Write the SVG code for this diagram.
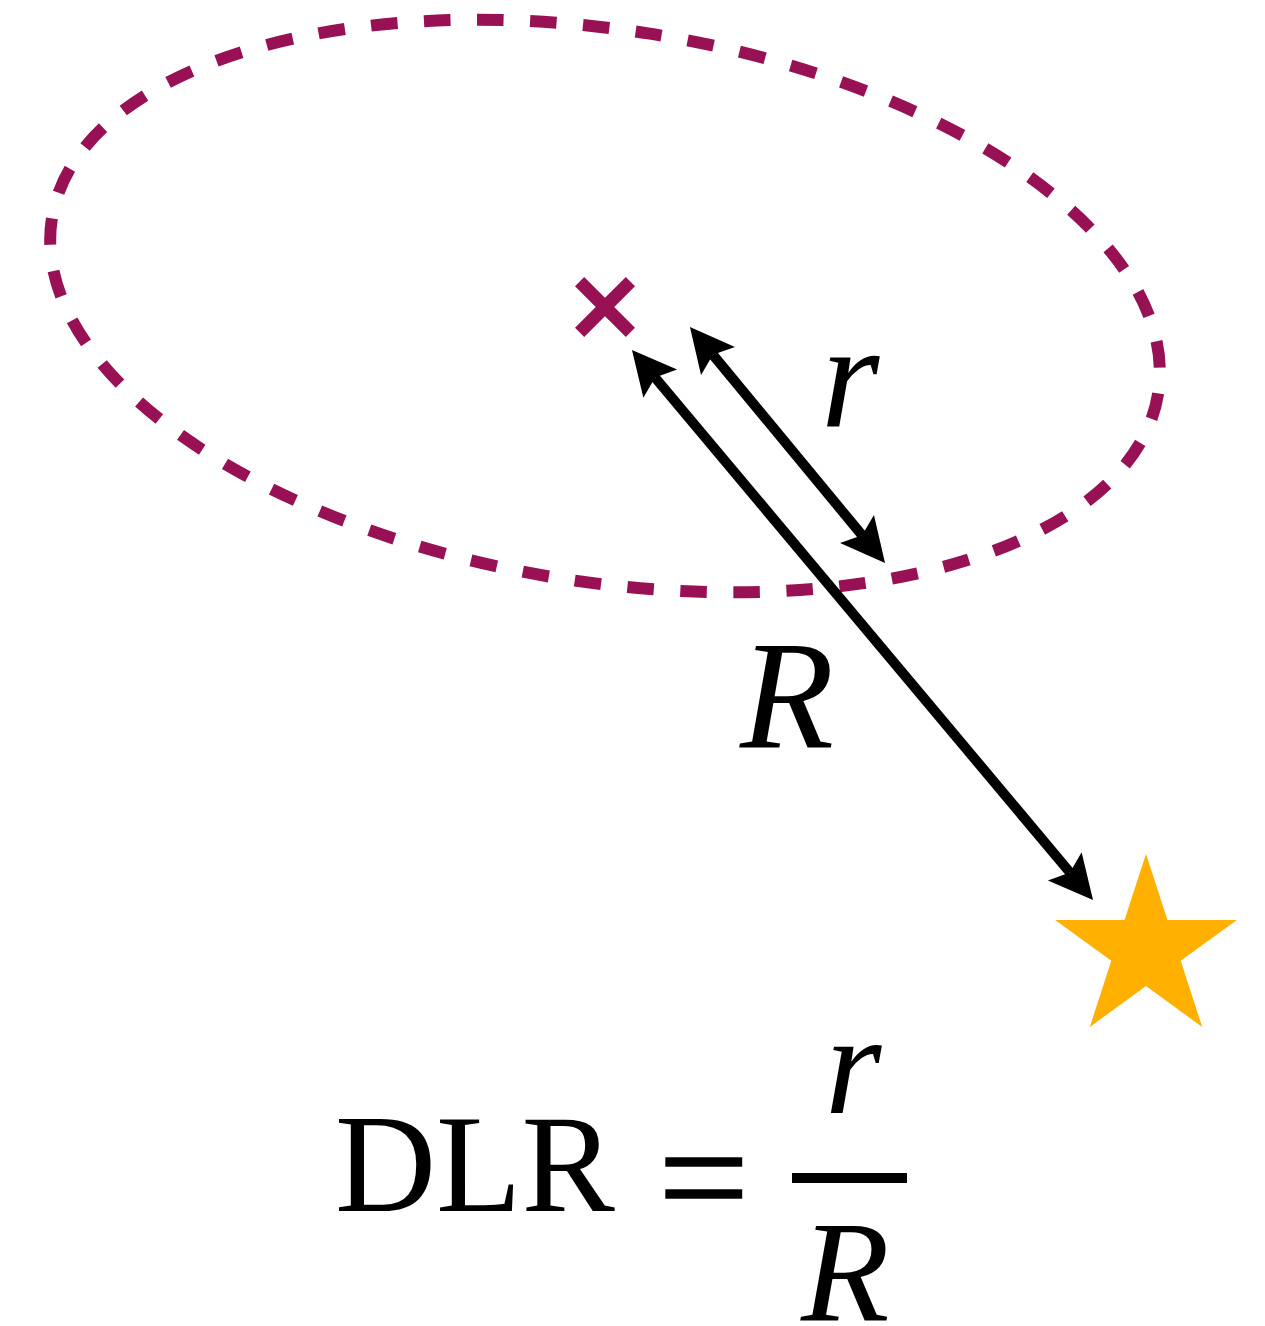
<svg xmlns="http://www.w3.org/2000/svg" width="1265" height="1326" viewBox="0 0 1265 1326">
<style>
.orbit{fill:none;stroke:#991155;stroke-width:12;stroke-dasharray:26.5 26.5}
.cross{stroke:#991155;stroke-width:13;stroke-linecap:butt}
.arrow{stroke:#000;stroke-width:10;fill:none;marker-start:url(#head);marker-end:url(#head)}
.it{font-family:"Liberation Serif","Times New Roman",serif;font-style:italic;fill:#000}
.rm{font-family:"Liberation Serif","Times New Roman",serif;fill:#000}
</style>
<defs>
<marker id="head" markerUnits="userSpaceOnUse" viewBox="-10 -25 50 50" refX="0" refY="0" markerWidth="50" markerHeight="50" orient="auto-start-reverse" overflow="visible">
<path d="M36,0 L-8,-22 L0,0 L-8,22 Z" fill="#000"/>
</marker>
</defs>
<g id="orbit">
<ellipse class="orbit" cx="605" cy="306" rx="560" ry="276" transform="rotate(8.97 605 306)"/>
</g>
<g id="center">
<line class="cross" x1="579.6" y1="281.6" x2="630.4" y2="332.4"/>
<line class="cross" x1="630.4" y1="281.6" x2="579.6" y2="332.4"/>
</g>
<g id="star">
<polygon fill="#ffb000" points="1146,854 1167.5,920.1 1236.9,920.1 1180.7,960.8 1202.2,1027 1146,986.1 1089.8,1027 1111.3,960.8 1055.1,920.1 1124.5,920.1"/>
</g>
<g id="connectors">
<line class="arrow" x1="712.9" y1="354.8" x2="862.1" y2="535.2"/>
<line class="arrow" x1="655.1" y1="377.6" x2="1069.9" y2="872.4"/>
</g>
<g id="labels">
<text class="it" x="821" y="427" font-size="150">r</text>
<text class="it" x="740" y="747" font-size="154">R</text>
</g>
<g id="formula">
<text class="rm" x="335" y="1211" font-size="140">DLR</text>
<text class="rm" x="658" y="1231" font-size="162" stroke="#000" stroke-width="1.5">=</text>
<line x1="792" y1="1178" x2="907" y2="1178" stroke="#000" stroke-width="10"/>
<text class="it" x="825" y="1113" font-size="145">r</text>
<text class="it" x="801" y="1320" font-size="145">R</text>
</g>
</svg>
